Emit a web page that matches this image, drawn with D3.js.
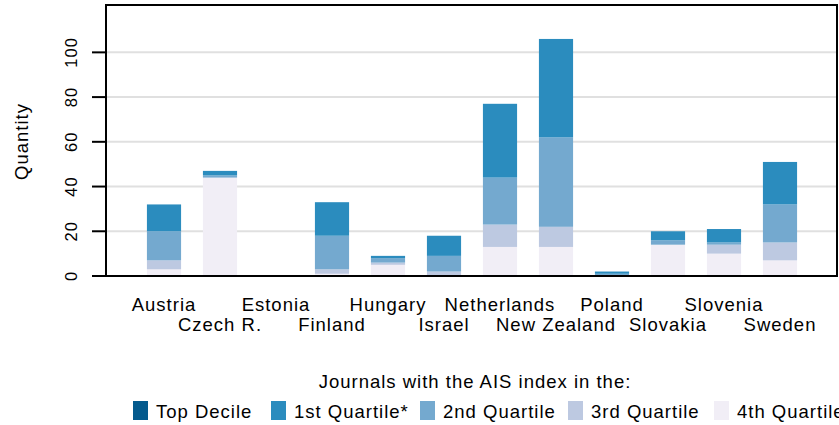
<!DOCTYPE html>
<meta charset="utf-8">
<head>
<title>Journals by country</title>
<script src="https://cdn.jsdelivr.net/npm/d3@7"></script>
<style>
  body { margin: 0; background: #fff; }
  text { font-family: "Liberation Sans", Arial, sans-serif; letter-spacing: 1px; fill: #000; }
</style>
</head>
<body>
<svg id="chart"></svg>
<script>
// data
var countries = ["Austria", "Czech R.", "Estonia", "Finland", "Hungary", "Israel",
                 "Netherlands", "New Zealand", "Poland", "Slovakia", "Slovenia", "Sweden"];
var topDecile = [0, 0, 0, 0, 0, 0, 0, 0, 0, 0, 0, 0];
var quartile1 = [12, 2, 0, 15, 1, 9, 33, 44, 1, 4, 6, 19];
var quartile2 = [13, 1, 0, 15, 2, 7, 21, 40, 1, 2, 1, 17];
var quartile3 = [4, 0, 0, 2, 1, 2, 10, 9, 0, 0, 4, 8];
var quartile4 = [3, 44, 0, 1, 5, 0, 13, 13, 0, 14, 10, 7];
var yTicks = [0, 20, 40, 60, 80, 100];
var legendLabels = ["Top Decile", "1st Quartile*", "2nd Quartile", "3rd Quartile", "4th Quartile"];
var colors = ["#045a8d", "#2b8cbe", "#74a9cf", "#bdc9e1", "#f1eef6"];

var W = 839, H = 425;
var svg = d3.select("#chart").attr("width", W).attr("height", H);

var box = {left: 106, top: 5, right: 837, bottom: 276};

var rows = countries.map(function(c, i) {
  return {country: c, q4: quartile4[i], q3: quartile3[i], q2: quartile2[i], q1: quartile1[i], top: topDecile[i]};
});
var keys = ["q4", "q3", "q2", "q1", "top"];
var keyColor = {q4: colors[4], q3: colors[3], q2: colors[2], q1: colors[1], top: colors[0]};

var x = d3.scaleBand().domain(countries).range([136, 808]).paddingInner(0.39).paddingOuter(0.195);
var y = d3.scaleLinear().domain([0, 121]).range([box.bottom, box.top + 0.4]);

// gridlines
svg.append("g").selectAll("line").data(yTicks.filter(function(d) { return d > 0; }))
  .enter().append("line")
  .attr("x1", box.left).attr("x2", box.right)
  .attr("y1", function(d) { return y(d); }).attr("y2", function(d) { return y(d); })
  .attr("stroke", "#e0e0e0").attr("stroke-width", 2);

// stacked bars
var series = d3.stack().keys(keys)(rows);
svg.append("g").selectAll("g").data(series).enter().append("g")
  .attr("fill", function(s) { return keyColor[s.key]; })
  .selectAll("rect").data(function(s) { return s; }).enter().append("rect")
  .attr("x", function(d) { return x(d.data.country); })
  .attr("width", x.bandwidth())
  .attr("y", function(d) { return y(d[1]); })
  .attr("height", function(d) { return y(d[0]) - y(d[1]); });

// frame
svg.append("rect")
  .attr("x", box.left).attr("y", box.top)
  .attr("width", box.right - box.left).attr("height", box.bottom - box.top)
  .attr("fill", "none").attr("stroke", "#000").attr("stroke-width", 2);

// y axis: ticks + rotated labels
var yAxis = svg.append("g");
yAxis.selectAll("line").data(yTicks).enter().append("line")
  .attr("x1", 92).attr("x2", box.left)
  .attr("y1", function(d) { return y(d); }).attr("y2", function(d) { return y(d); })
  .attr("stroke", "#000").attr("stroke-width", 2);
yAxis.selectAll("text").data(yTicks).enter().append("text")
  .attr("transform", function(d) { return "translate(77," + y(d) + ") rotate(-90)"; })
  .attr("text-anchor", "middle")
  .style("font-size", "16.5px")
  .text(function(d) { return d; });

svg.append("text")
  .attr("transform", "translate(28," + ((box.top + box.bottom) / 2 + 1) + ") rotate(-90)")
  .attr("text-anchor", "middle")
  .style("font-size", "18.5px")
  .text("Quantity");

// country labels, staggered on two rows
svg.append("g").selectAll("text").data(countries).enter().append("text")
  .attr("x", function(d) { return x(d) + x.bandwidth() / 2; })
  .attr("y", function(d, i) { return i % 2 === 0 ? 311 : 331; })
  .attr("text-anchor", "middle")
  .style("font-size", "18.5px")
  .text(function(d) { return d; });

// legend (runs off the right edge, as in the original)
svg.append("text")
  .attr("x", 475).attr("y", 388)
  .attr("text-anchor", "middle")
  .style("font-size", "18.5px")
  .text("Journals with the AIS index in the:");

var legendX = [133, 271, 420, 568, 714];
var legend = svg.append("g").selectAll("g").data(legendLabels).enter().append("g")
  .attr("transform", function(d, i) { return "translate(" + legendX[i] + ",0)"; });
legend.append("rect").attr("y", 401).attr("width", 15).attr("height", 19)
  .attr("fill", function(d, i) { return colors[i]; });
legend.append("text").attr("x", 23).attr("y", 418)
  .style("font-size", "18.5px")
  .text(function(d) { return d; });
</script>
</body>
</html>
